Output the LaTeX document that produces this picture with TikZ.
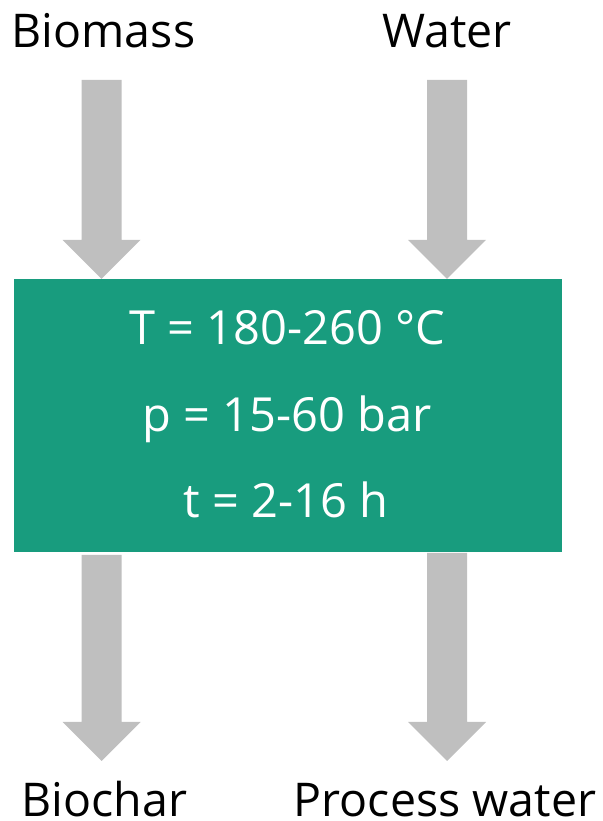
\documentclass[tikz,border=0pt]{standalone}
\usepackage{fontspec}
\setmainfont{Open Sans}
\definecolor{reactorgreen}{HTML}{189C7E}
\definecolor{arrowgray}{HTML}{BFBFBF}

% Block arrow pointing down: #1 = axis x, #2 = top of shaft, #3 = tip
\newcommand\flowarrow[3]{%
  \fill[arrowgray] ({#1-20},#2) -- ({#1+20},#2) -- ({#1+20},{#3+39})
    -- ({#1+39},{#3+39}) -- (#1,#3) -- ({#1-39},{#3+39})
    -- ({#1-20},{#3+39}) -- cycle;}

\begin{document}
\begin{tikzpicture}[x=1pt,y=1pt,
  label/.style={font=\fontsize{46.5}{56}\selectfont, text=black, inner sep=0pt,
    text depth=0pt, anchor=base},
  cond/.style={font=\fontsize{47}{56}\selectfont, text=white, inner sep=0pt, anchor=base},
  reactor/.style={fill=reactorgreen, draw=none, inner sep=0pt, minimum width=548pt, minimum height=273pt}]
  \useasboundingbox (0,0) rectangle (602,821);

  % reactor
  \node[reactor] (box) at (288,405.5) {};
  \node[cond] (temp) at (287,476) {T = 180-260 °C};
  \node[cond] (pres) at (287,389.3) {p = 15-60 bar};
  \node[cond] (time) at (286,303) {t = 2-16 h};

  % inputs and outputs
  \node[label] (bm) at (103.5,773.3) {Biomass};
  \node[label] (wa) at (447,773.3) {Water};
  \node[label] (bc) at (104.5,4.5) {Biochar};
  \node[label] (pw) at (445,4.5) {Process water};

  % flows into and out of the reactor
  \flowarrow{101.5}{741}{542}
  \flowarrow{447}{741}{542}
  \flowarrow{101.5}{266}{60}
  \flowarrow{447}{268}{60}
\end{tikzpicture}
\end{document}
